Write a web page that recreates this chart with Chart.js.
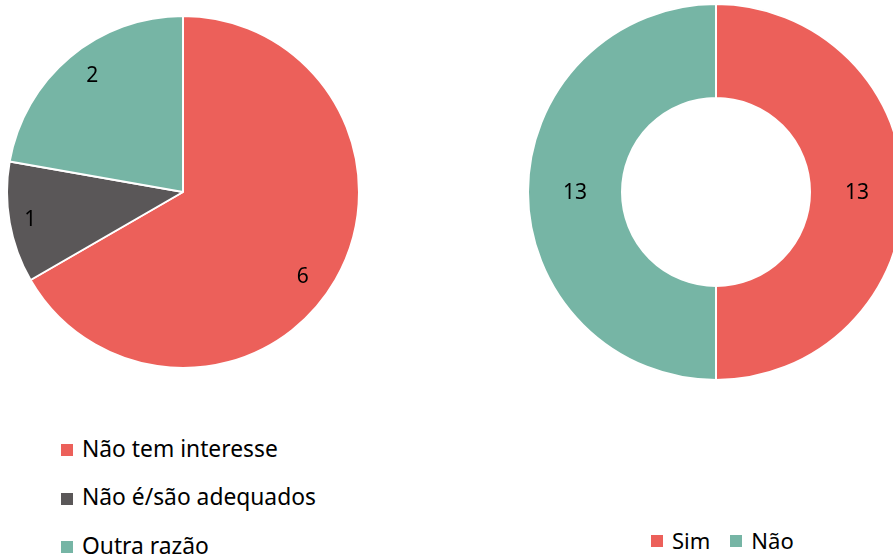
<!DOCTYPE html>
<html>
<head>
<meta charset="utf-8">
<script src="https://cdn.jsdelivr.net/npm/chart.js@4.4.1/dist/chart.umd.min.js"></script>
<style>
  html, body { margin:0; padding:0; background:#fff; }
  #stage { position:relative; width:893px; height:558px; overflow:hidden; font-family: "Noto Sans", sans-serif; color:#000; }
  #pieBox { position:absolute; left:6px; top:15px; width:354px; height:354px; }
  #donutBox { position:absolute; left:527px; top:3px; width:378px; height:378px; }
  .txt { position:absolute; line-height:30px; white-space:nowrap; }
  .sw { position:absolute; width:12px; height:12px; }
</style>
</head>
<body>
<div id="stage">
  <div id="pieBox"><canvas id="pie"></canvas></div>
  <div id="donutBox"><canvas id="donut"></canvas></div>
</div>
<script>
// ---- data ----
const pieLabels = ["Não tem interesse", "Não é/são adequados", "Outra razão"];
const pieValues = [6, 1, 2];
const donutLabels = ["Sim", "Não"];
const donutValues = [13, 13];

const RED = "#EC605A", GRAY = "#5A5758", TEAL = "#76B5A5";
const pieColors = [RED, GRAY, TEAL];
const donutColors = [RED, TEAL];
const FONT = "'Noto Sans', sans-serif";
const LABEL_PX = 21;

const labelPlugin = {
  id: "sliceLabels",
  afterDatasetsDraw(chart, args, opts) {
    const ctx = chart.ctx;
    const meta = chart.getDatasetMeta(0);
    const data = chart.data.datasets[0].data;
    ctx.save();
    ctx.font = LABEL_PX + "px " + FONT;
    ctx.fillStyle = "#000";
    ctx.textAlign = "center";
    ctx.textBaseline = "alphabetic";
    meta.data.forEach((arc, i) => {
      const p = arc.getProps(["x","y","startAngle","endAngle","innerRadius","outerRadius"], true);
      const shift = (opts.angleShift ? opts.angleShift[i] : 0) * Math.PI / 180;
      const mid = (p.startAngle + p.endAngle) / 2 + shift;
      const f = opts.factors ? opts.factors[i] : 0.5;
      const r = p.innerRadius + (p.outerRadius - p.innerRadius) * f;
      const cx = p.x + Math.cos(mid) * r;
      const cy = p.y + Math.sin(mid) * r;
      ctx.fillText(String(data[i]), cx, cy + 0.357 * LABEL_PX);
    });
    ctx.restore();
  }
};

function opts(extra, labelOpts) {
  return Object.assign({
    responsive: true,
    maintainAspectRatio: false,
    animation: false,
    layout: { padding: 0 },
    plugins: { legend: { display: false }, tooltip: { enabled: false }, sliceLabels: labelOpts }
  }, extra);
}

new Chart(document.getElementById("pie"), {
  type: "pie",
  data: { labels: pieLabels, datasets: [{ data: pieValues, backgroundColor: pieColors, borderColor: "#fff", borderWidth: 2 }] },
  options: opts({}, { factors: [0.83, 0.88, 0.845], angleShift: [5, 0.3, 2.4] }),
  plugins: [labelPlugin]
});

new Chart(document.getElementById("donut"), {
  type: "doughnut",
  data: { labels: donutLabels, datasets: [{ data: donutValues, backgroundColor: donutColors, borderColor: "#fff", borderWidth: 2 }] },
  options: opts({ cutout: "50%" }, { factors: [0.5, 0.5] }),
  plugins: [labelPlugin]
});

// HTML legends built from the same arrays
const stage = document.getElementById("stage");
function addItem(x, baseline, color, text, size) {
  const sw = document.createElement("div");
  sw.className = "sw";
  sw.style.left = x + "px";
  sw.style.top = (baseline - 13) + "px";
  sw.style.background = color;
  stage.appendChild(sw);
  const t = document.createElement("div");
  t.className = "txt";
  t.style.fontSize = size + "px";
  t.style.left = (x + 21) + "px";
  t.style.top = (baseline - 23.5) + "px";
  t.textContent = text;
  stage.appendChild(t);
  return t;
}
pieLabels.forEach((l, i) => addItem(61, 457 + i * 48.5, pieColors[i], l, 22.8));
let xr = 651;
donutLabels.forEach((l, i) => {
  const t = addItem(xr, 548, donutColors[i], l, 22);
  xr = xr + 21 + t.getBoundingClientRect().width + 20;
});
</script>
</body>
</html>
